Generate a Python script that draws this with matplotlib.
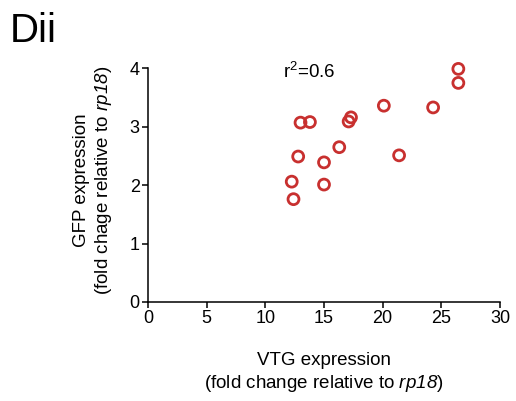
import matplotlib
matplotlib.use("Agg")
import matplotlib.pyplot as plt

plt.rcParams['font.family'] = ['Liberation Sans', 'DejaVu Sans']
plt.rcParams['mathtext.fontset'] = 'custom'
plt.rcParams['mathtext.rm'] = 'Liberation Sans'
plt.rcParams['mathtext.it'] = 'Liberation Sans:italic'
plt.rcParams['mathtext.sf'] = 'Liberation Sans:italic'

# VTG vs GFP expression (fold change relative to rp18)
vtg = [26.45, 26.45, 20.1, 24.3, 13.0, 13.8, 17.3, 17.1, 16.3, 12.8, 21.4, 15.0, 12.25, 15.0, 12.4]
gfp = [3.99, 3.75, 3.36, 3.33, 3.07, 3.08, 3.16, 3.09, 2.65, 2.49, 2.51, 2.39, 2.06, 2.01, 1.76]
xticks = [0, 5, 10, 15, 20, 25, 30]
yticks = [0, 1, 2, 3, 4]
r2_label = "r$^2$=0.6"

fig = plt.figure(figsize=(5.16, 4.01), dpi=100)
ax = fig.add_axes([148/516, 1 - 302/401, 352/516, (302 - 68.3)/401])

red = '#c8302f'
ax.scatter(vtg, gfp, s=62, facecolors='none', edgecolors=red, linewidths=2.0, clip_on=False, zorder=3)

ax.set_xlim(0, 30)
ax.set_ylim(0, 4)
ax.set_xticks(xticks)
ax.set_yticks(yticks)
for s in ['top', 'right']:
    ax.spines[s].set_visible(False)
for s in ['left', 'bottom']:
    ax.spines[s].set_linewidth(1.1)
ax.tick_params(axis='both', direction='out', length=4, width=1.1, labelsize=13, pad=2)

ax.set_xlabel("VTG expression\n(fold change relative to $\\mathsf{rp18}$)", fontsize=13.5,
              linespacing=1.25, labelpad=18)
ax.set_ylabel("GFP expression\n(fold chage relative to $\\mathsf{rp18}$)", fontsize=13.5,
              linespacing=1.25, labelpad=11)
ax.yaxis.label.set_y(0.52)

ax.text(11.5, 3.93, r2_label, fontsize=13.5, ha='left', va='center')
fig.text(10/516, 1 - 42/401, "Dii", fontsize=29, ha='left', va='baseline')

fig.savefig("out.png", dpi=100)
